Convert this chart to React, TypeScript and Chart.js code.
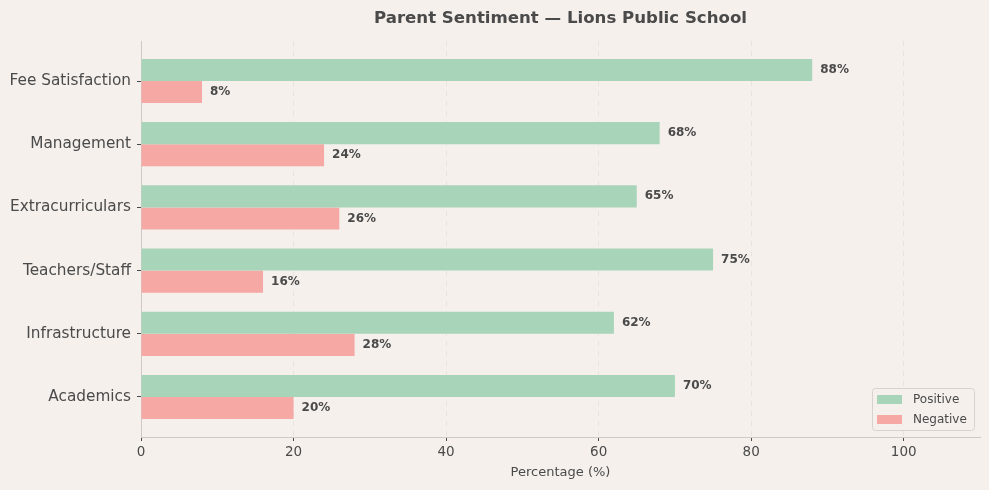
import { useEffect, useRef } from "react"
import { Chart, registerables } from "chart.js"

Chart.register(...registerables)

const categories = [
  "Fee Satisfaction",
  "Management",
  "Extracurriculars",
  "Teachers/Staff",
  "Infrastructure",
  "Academics",
]
const positive = [88, 68, 65, 75, 62, 70]
const negative = [8, 24, 26, 16, 28, 20]
const xTicks = [0, 20, 40, 60, 80, 100]

const FONT = "'DejaVu Sans', sans-serif"
const TEXT = "#4a4a4a"
const BG = "#f5f0ec"

// titulo, rótulos e legenda desenhados à mão
const extrasPlugin = {
  id: "extras",
  beforeDraw(chart: Chart) {
    const { ctx, width, height } = chart
    ctx.save()
    ctx.fillStyle = BG
    ctx.fillRect(0, 0, width, height)
    ctx.restore()
  },
  afterDatasetsDraw(chart: Chart) {
    const { ctx, chartArea } = chart
    ctx.save()
    // rótulos de valor
    ctx.font = `bold 12px ${FONT}`
    ctx.fillStyle = TEXT
    ctx.textBaseline = "middle"
    ctx.textAlign = "left"
    chart.data.datasets.forEach((ds, di) => {
      chart.getDatasetMeta(di).data.forEach((el: any, i) => {
        const v = (ds.data[i] as any).x
        ctx.fillText(`${v}%`, el.x + 8, el.y)
      })
    })

    // título
    ctx.font = `bold 16.6px ${FONT}`
    ctx.textAlign = "center"
    ctx.fillText("Parent Sentiment — Lions Public School", (chartArea.left + chartArea.right) / 2, 19)

    // legenda
    const bx = 872, by = 388, bw = 102, bh = 42
    ctx.fillStyle = "rgba(245,240,236,0.8)"
    ctx.strokeStyle = "#d6d2ce"
    ctx.lineWidth = 1
    ctx.beginPath()
    ctx.roundRect(bx + 0.5, by + 0.5, bw, bh, 3)
    ctx.fill()
    ctx.stroke()
    ctx.font = `12px ${FONT}`
    ctx.textAlign = "left"
    chart.data.datasets.forEach((ds, di) => {
      const y = by + 11 + di * 20
      ctx.fillStyle = ds.backgroundColor as string
      ctx.fillRect(bx + 5, y - 4, 25, 9)
      ctx.fillStyle = TEXT
      ctx.fillText(ds.label as string, bx + 41, y + 1)
    })
    ctx.restore()
  },
}

export default function App() {
  const chartRef = useRef<HTMLCanvasElement>(null)
  const chartInstance = useRef<Chart | null>(null)

  useEffect(() => {
    if (!chartRef.current) return
    if (chartInstance.current) chartInstance.current.destroy()
    const ctx = chartRef.current.getContext("2d")
    if (!ctx) return

    chartInstance.current = new Chart(ctx, {
      type: "bar",
      data: {
        datasets: [
          {
            label: "Positive",
            data: positive.map((v, i) => ({ x: v, y: i })),
            backgroundColor: "#a8d5ba",
            borderWidth: 0,
          },
          {
            label: "Negative",
            data: negative.map((v, i) => ({ x: v, y: i })),
            backgroundColor: "#f5a8a4",
            borderWidth: 0,
          },
        ],
      },
      options: {
        indexAxis: "y",
        animation: false,
        responsive: false,
        devicePixelRatio: 1,
        categoryPercentage: 0.7,
        barPercentage: 1,
        layout: { padding: { left: 0, right: 9, top: 41, bottom: 0 } },
        scales: {
          x: {
            type: "linear",
            min: 0,
            max: 110,
            afterBuildTicks: (scale: any) => {
              scale.ticks = xTicks.map((v) => ({ value: v }))
            },
            afterFit: (scale: any) => {
              scale.height = 53
            },
            border: { display: true, color: "#cfcac5", width: 1, dash: [5, 5] },
            grid: {
              color: (c: any) => (c.tick && c.tick.value === 0 ? "rgba(0,0,0,0)" : "#e8e3de"),
              lineWidth: 1,
              tickColor: "#4a4a4a",
              tickLength: 4,
              tickBorderDash: [],
            },
            ticks: {
              color: TEXT,
              font: { family: FONT, size: 13.5 },
              padding: 3,
            },
            title: {
              display: true,
              text: "Percentage (%)",
              color: TEXT,
              font: { family: FONT, size: 13 },
              padding: { top: 3, bottom: 10 },
            },
          },
          y: {
            type: "linear",
            reverse: true,
            offset: false,
            min: -0.633,
            max: 5.633,
            afterBuildTicks: (scale: any) => {
              scale.ticks = categories.map((_, i) => ({ value: i }))
            },
            afterFit: (scale: any) => {
              scale.width = 141
            },
            border: { display: true, color: "#cfcac5", width: 1 },
            grid: {
              offset: false,
              drawOnChartArea: false,
              drawTicks: true,
              tickLength: 4,
              tickColor: "#4a4a4a",
            },
            ticks: {
              color: TEXT,
              font: { family: FONT, size: 15.3 },
              padding: 6,
              callback: (v: any) => categories[Number(v)] ?? "",
            },
          },
        },
        plugins: {
          legend: { display: false },
          title: { display: false },
          tooltip: { enabled: false },
        },
      },
      plugins: [extrasPlugin],
    })

    return () => {
      if (chartInstance.current) {
        chartInstance.current.destroy()
        chartInstance.current = null
      }
    }
  }, [])

  return (
    <div style={{ position: "fixed", left: 0, top: 0, width: 989, height: 490, background: BG }}>
      <canvas ref={chartRef} width={989} height={490} style={{ width: 989, height: 490 }} />
    </div>
  )
}
